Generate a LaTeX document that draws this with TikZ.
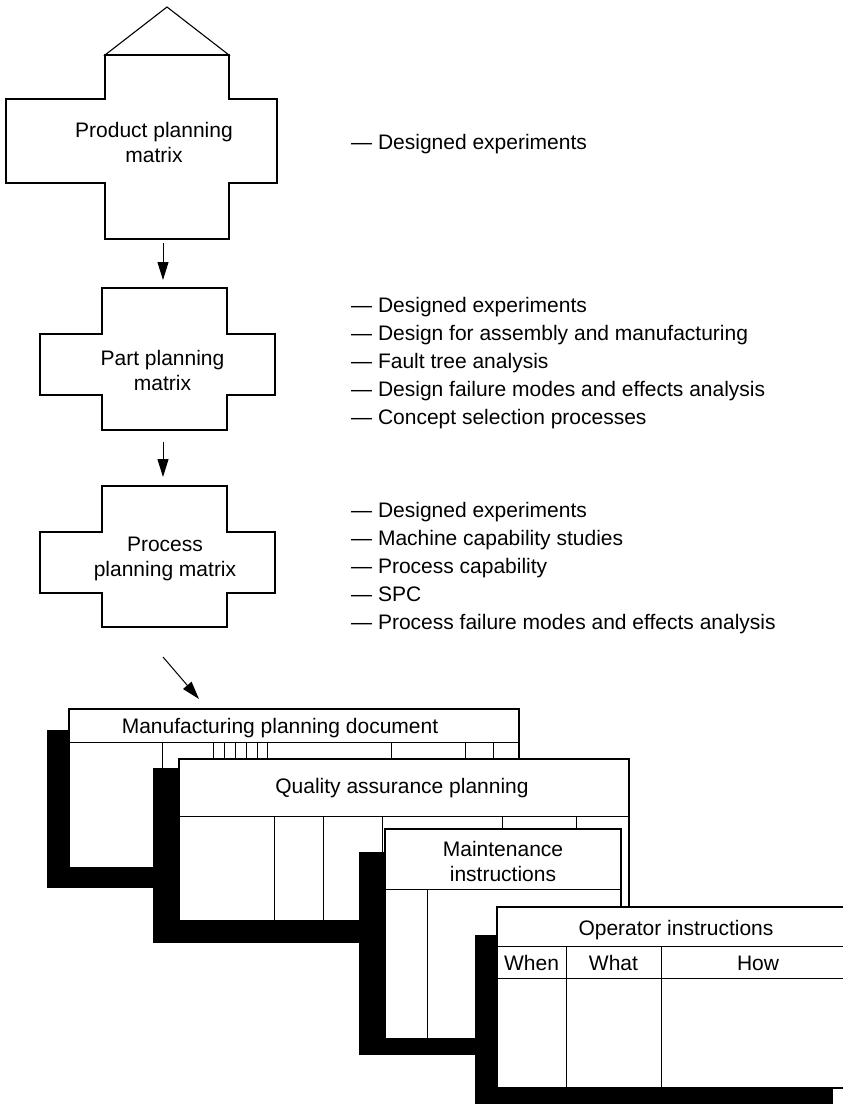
\documentclass[tikz,border=0pt]{standalone}
\usepackage{fontspec}
\setmainfont{Liberation Sans}
\usetikzlibrary{arrows.meta}
\begin{document}
\begin{tikzpicture}[x=1pt,y=-1pt,
  frame/.style={draw=black, line width=1.1pt, fill=white, line join=miter},
  rule/.style={draw=black, line width=0.9pt},
  shade/.style={fill=black},
  % multi-line nodes: the base anchor sits on the last line
  lbl/.style={font=\fontsize{21}{25}\selectfont, inner sep=0pt, align=center, anchor=base},
  items/.style={font=\fontsize{21}{28}\selectfont, inner sep=0pt, align=left, anchor=base west},
  arr/.style={-{Triangle[length=18pt,width=11pt]}, line width=1pt},
]
\useasboundingbox (0,0) rectangle (843,1104);
\clip (0,0) rectangle (843,1104);

% ---- product planning matrix (cross with roof)
\draw[frame] (167,7) -- (229,55) -- (105,55) -- cycle;
\draw[frame] (105,55) -- (229,55) -- (229,99) -- (277,99) -- (277,183) -- (229,183)
  -- (229,239) -- (105,239) -- (105,183) -- (6,183) -- (6,99) -- (105,99) -- cycle;
\node[lbl] (prod) at (154,162) {Product planning\\matrix};

% ---- part planning matrix
\draw[frame] (102,288) -- (227,288) -- (227,334) -- (275,334) -- (275,395) -- (227,395)
  -- (227,430) -- (102,430) -- (102,395) -- (40,395) -- (40,334) -- (102,334) -- cycle;
\node[lbl] (part) at (162.5,390) {Part planning\\matrix};

% ---- process planning matrix
\draw[frame] (102,486) -- (227,486) -- (227,532) -- (275,532) -- (275,593) -- (227,593)
  -- (227,627) -- (102,627) -- (102,593) -- (40,593) -- (40,532) -- (102,532) -- cycle;
\node[lbl] (proc) at (165,576.7) {Process\\planning matrix};

% ---- connectors between the stages
\coordinate (c1b) at (163,239);
\coordinate (c2t) at (163,288);
\coordinate (c2b) at (163,430);
\coordinate (c3t) at (163,486);
\coordinate (a3s) at (163,657);
\coordinate (a3e) at (199,699);
\draw[arr, shorten <=4pt, shorten >=8pt] (c1b) -- (c2t);
\draw[arr, shorten <=12pt, shorten >=9pt] (c2b) -- (c3t);
\draw[arr] (a3s) -- (a3e);

% ---- tools used at each stage
\node[items] (tools1) at (351,149.3) {— Designed experiments};
\node[items] (tools2) at (351,424) {— Designed experiments\\
  — Design for assembly and manufacturing\\
  — Fault tree analysis\\
  — Design failure modes and effects analysis\\
  — Concept selection processes};
\node[items] (tools3) at (351,629) {— Designed experiments\\
  — Machine capability studies\\
  — Process capability\\
  — SPC\\
  — Process failure modes and effects analysis};

% ---- manufacturing planning document
\fill[shade] (47,730) rectangle (497,888);
\draw[frame] (69,709) rectangle (519,868);
\draw[rule] (69,742) -- (519,742);
\foreach \x in {162,213,224,235,246,257,267,391,465,493}
  \draw[rule] (\x,742) -- (\x,868);
\node[lbl] (mfg) at (280,733) {Manufacturing planning document};

% ---- quality assurance planning
\fill[shade] (153,768) rectangle (603,943);
\draw[frame] (179,759) rectangle (629,921);
\draw[rule] (179,816) -- (629,816);
\foreach \x in {274,323,382,502,576}
  \draw[rule] (\x,816) -- (\x,921);
\node[lbl] (qa) at (402,793.3) {Quality assurance planning};

% ---- maintenance instructions
\fill[shade] (359,852) rectangle (595,1055);
\draw[frame] (385,829) rectangle (621,1039);
\draw[rule] (385,889) -- (621,889);
\draw[rule] (427,889) -- (427,1039);
\node[lbl, font=\fontsize{21}{24.3}\selectfont] (mnt) at (503,881) {Maintenance\\instructions};

% ---- operator instructions
\fill[shade] (475,935) rectangle (833,1110);
\draw[frame] (497,907) rectangle (855,1088);
\draw[rule] (497,946) -- (855,946);
\draw[rule] (497,978) -- (855,978);
\foreach \x in {566,661}
  \draw[rule] (\x,946) -- (\x,1088);
\node[lbl] (op) at (676,935) {Operator instructions};
\node[lbl] (when) at (531.5,970) {When};
\node[lbl] (what) at (613.5,970) {What};
\node[lbl] (how) at (758,970) {How};
\end{tikzpicture}
\end{document}
